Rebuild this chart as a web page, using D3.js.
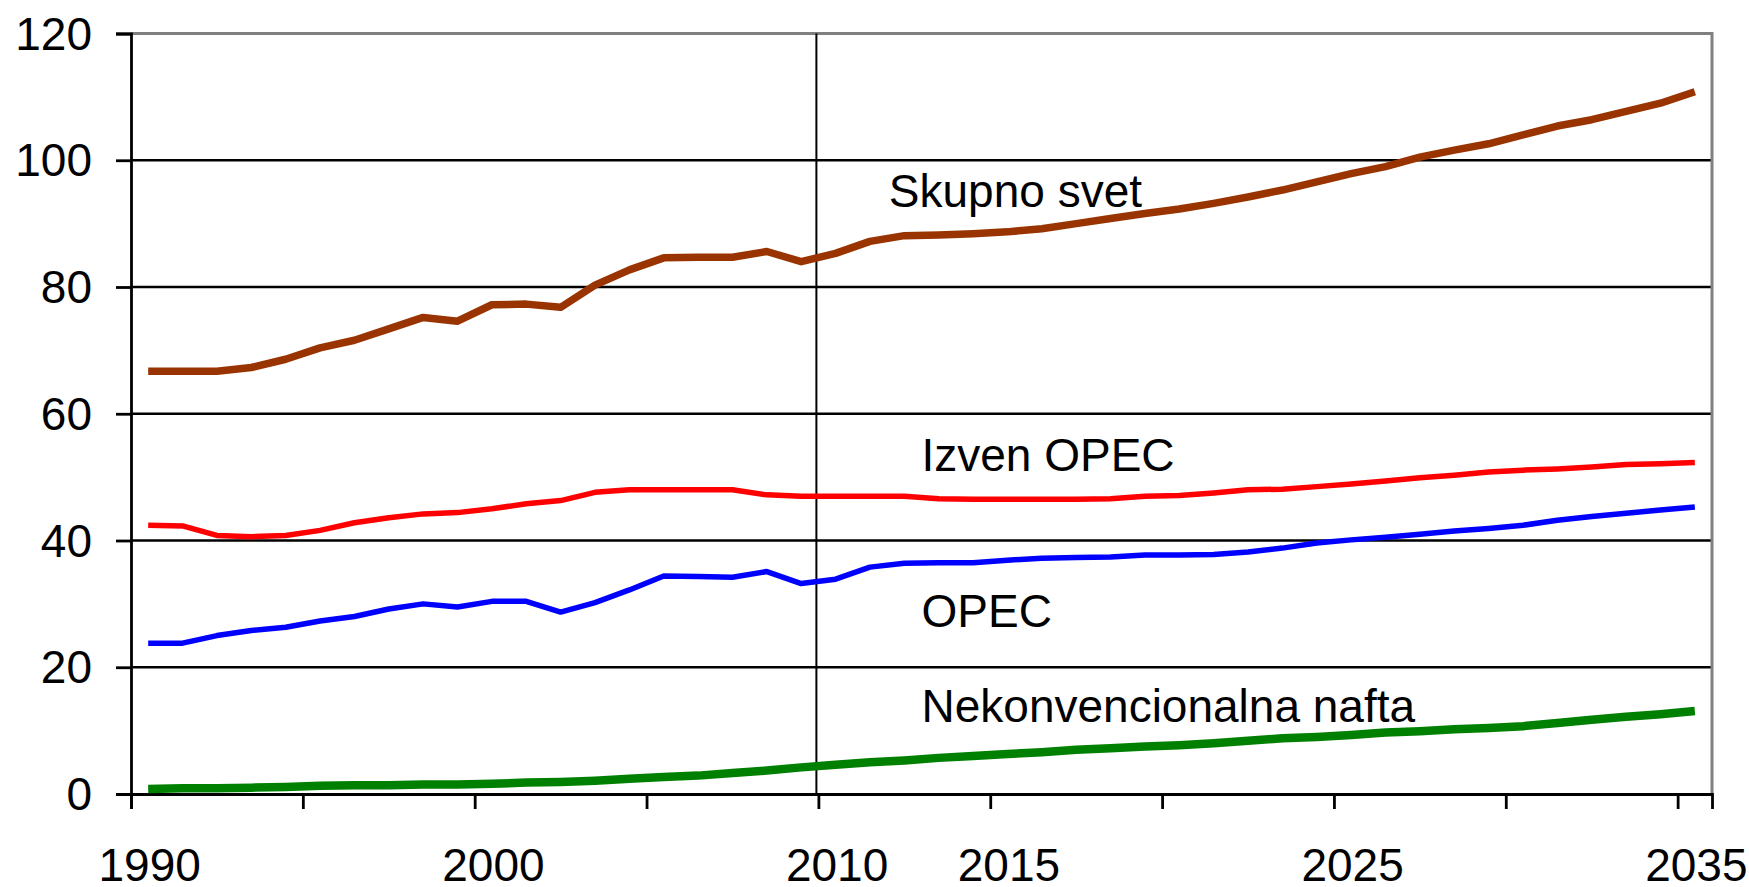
<!DOCTYPE html>
<html>
<head>
<meta charset="utf-8">
<script src="https://cdn.jsdelivr.net/npm/d3@7"></script>
<style>
body { margin:0; background:#fff; }
text { font-family: "Liberation Sans", Arial, sans-serif; }
</style>
</head>
<body>
<div id="figure"></div>
<script>

var years = [1990,1991,1992,1993,1994,1995,1996,1997,1998,1999,
	2000,2001,2002,2003,2004,2005,2006,2007,2008,2009,
	2010,2011,2012,2013,2014,2015,2016,2017,2018,2019,
	2020,2021,2022,2023,2024,2025,2026,2027,2028,2029,
	2030,2031,2032,2033,2034,2035];

var skupno = [66.7,66.7,66.7,67.3,68.6,70.4,71.6,73.4,75.2,74.6,
	77.2,77.3,76.8,80.3,82.7,84.6,84.7,84.7,85.6,84.0,
	85.3,87.2,88.1,88.2,88.4,88.7,89.2,90.0,90.8,91.6,
	92.3,93.2,94.2,95.3,96.6,97.9,99.0,100.5,101.6,102.6,
	104.0,105.4,106.4,107.7,109.0,110.8];

var izvenOpec = [42.4,42.3,40.8,40.6,40.8,41.6,42.8,43.6,44.2,44.4,
	45.0,45.8,46.3,47.6,48.0,48.0,48.0,48.0,47.2,47.0,
	47.0,47.0,47.0,46.6,46.5,46.5,46.5,46.5,46.6,47.0,
	47.1,47.5,48.0,48.1,48.5,48.9,49.4,49.9,50.3,50.8,
	51.1,51.3,51.6,52.0,52.1,52.3];

var opec = [23.8,23.8,25.0,25.8,26.3,27.3,28.0,29.2,30.0,29.5,
	30.4,30.4,28.7,30.2,32.2,34.4,34.3,34.2,35.1,33.2,
	33.9,35.8,36.4,36.5,36.5,36.9,37.2,37.3,37.4,37.7,
	37.7,37.8,38.2,38.8,39.6,40.1,40.5,41.0,41.5,41.9,
	42.4,43.2,43.8,44.3,44.8,45.3];

var nekonv = [0.8,0.9,0.9,1.0,1.1,1.3,1.4,1.4,1.5,1.5,
	1.6,1.8,1.9,2.1,2.4,2.7,2.9,3.3,3.7,4.2,
	4.6,5.0,5.3,5.7,6.0,6.3,6.6,7.0,7.2,7.5,
	7.7,8.0,8.4,8.8,9.0,9.3,9.7,9.9,10.2,10.4,
	10.7,11.2,11.7,12.2,12.6,13.1];

var yTicks = [0,20,40,60,80,100,120];
var xTicks = [1990,1995,2000,2005,2010,2015,2020,2025,2030,2035];
var xLabels = [1990,2000,2010,2015,2025,2035];

var series = [
	{label:"Skupno svet", values:skupno, color:"#993300", width:7.5, lx:2012.05, ly:92.6},
	{label:"Izven OPEC", values:izvenOpec, color:"#ff0000", width:5.5, lx:2013.0, ly:50.9},
	{label:"OPEC", values:opec, color:"#0000ff", width:5.5, lx:2013.0, ly:26.4},
	{label:"Nekonvencionalna nafta", values:nekonv, color:"#008000", width:8.5, lx:2013.0, ly:11.4}
];

var w = 1749, h = 887;
var plotLeft = 131, plotRight = 1712, plotTop = 33.5, plotBottom = 794;

var svg = d3.select("#figure").append("svg")
	.attr("width", w).attr("height", h);

// year boundaries on a linear scale, points sit in the middle of each year
var x = d3.scaleLinear().domain([1990, 2036]).range([plotLeft, plotRight]);
var y = d3.scaleLinear().domain([0, 120]).range([plotBottom, plotTop]);
var half = (x(1991) - x(1990)) / 2;

// grid lines
svg.selectAll("line.grid")
	.data(yTicks.filter(function(d) { return d > 0 && d < 120; }))
	.enter()
	.append("line")
	.attr("class", "grid")
	.attr("x1", plotLeft).attr("x2", plotRight)
	.attr("y1", function(d) { return y(d); })
	.attr("y2", function(d) { return y(d); })
	.attr("stroke", "#000")
	.attr("stroke-width", 2.7);

// top and right border (grey)
svg.append("path")
	.attr("d", "M" + plotLeft + "," + y(120) + "H" + x(2036) + "V" + y(0))
	.attr("fill", "none")
	.attr("stroke", "#808080")
	.attr("stroke-width", 3);

// 2010 line
svg.append("line")
	.attr("x1", x(2010) - 2).attr("x2", x(2010) - 2)
	.attr("y1", y(120)).attr("y2", y(0))
	.attr("stroke", "#000")
	.attr("stroke-width", 2);

// axes
var xAxis = svg.append("g")
	.attr("transform", "translate(0," + plotBottom + ")")
	.call(d3.axisBottom(x).tickValues(xTicks).tickSize(15)
		.tickFormat(function(d) { return xLabels.indexOf(d) >= 0 ? d : ""; }));
xAxis.select(".domain").attr("stroke-width", 2.8);
xAxis.selectAll(".tick line").attr("stroke-width", 2.8);
xAxis.selectAll("text")
	.attr("x", half + 1)
	.attr("y", 87)
	.attr("dy", null)
	.attr("fill", "#000")
	.style("font-size", "46px")
	.style("font-family", "'Liberation Sans', Arial, sans-serif");

var yAxis = svg.append("g")
	.attr("transform", "translate(" + plotLeft + ",0)")
	.call(d3.axisLeft(y).tickValues(yTicks).tickSize(15).tickPadding(24));
yAxis.select(".domain").attr("stroke-width", 2.8);
yAxis.selectAll(".tick line").attr("stroke-width", 2.8);
yAxis.selectAll("text")
	.attr("dy", "0.34em")
	.attr("fill", "#000")
	.style("font-size", "46px")
	.style("font-family", "'Liberation Sans', Arial, sans-serif");

// series
var line = d3.line()
	.x(function(d, i) { return x(years[i]) + half; })
	.y(function(d) { return y(d); });

svg.selectAll("path.series")
	.data(series)
	.enter()
	.append("path")
	.attr("class", "series")
	.attr("d", function(s) { return line(s.values); })
	.attr("fill", "none")
	.attr("stroke", function(s) { return s.color; })
	.attr("stroke-width", function(s) { return s.width; })
	.attr("stroke-linejoin", "round");

// labels
svg.selectAll("text.lbl")
	.data(series)
	.enter()
	.append("text")
	.attr("class", "lbl")
	.attr("x", function(s) { return x(s.lx); })
	.attr("y", function(s) { return y(s.ly); })
	.attr("fill", "#000")
	.style("font-size", "46px")
	.text(function(s) { return s.label; });

</script>
</body>
</html>
